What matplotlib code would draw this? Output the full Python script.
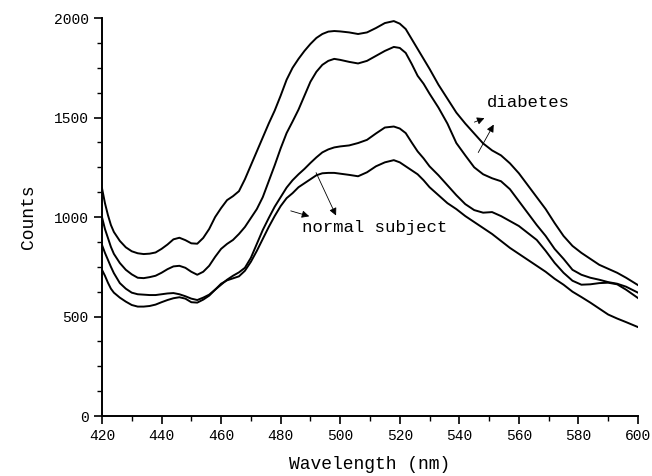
"""
Fluorescence spectra: diabetes vs normal subject
"""

import matplotlib
matplotlib.use("Agg")
import matplotlib.pyplot as plt
from matplotlib.ticker import MultipleLocator

#Wavelength grid (nm)
wavelength = [420, 421, 422, 423, 424, 426, 428, 430, 432, 434, 436, 438, 440, 442,
              444, 446, 448, 450, 452, 454, 456, 458, 460, 462, 464, 466, 468, 470,
              472, 474, 476, 478, 480, 482, 484, 486, 488, 490, 492, 494, 496, 498,
              500, 503, 506, 509, 512, 515, 518, 520, 522, 524, 526, 528, 530, 533,
              536, 539, 542, 545, 548, 551, 554, 557, 560, 563, 566, 569, 572, 575,
              578, 581, 584, 587, 590, 593, 596, 600]

#Diabetes, upper curve
diabetes_1 = [1146, 1070, 1010, 960, 925, 880, 848, 828, 818, 814, 816, 822, 840, 862,
              888, 896, 884, 868, 866, 895, 940, 1000, 1045, 1085, 1105, 1130, 1190, 1260,
              1330, 1400, 1470, 1535, 1610, 1690, 1750, 1795, 1835, 1870, 1900, 1920, 1932, 1935,
              1933, 1928, 1920, 1928, 1950, 1975, 1985, 1972, 1945, 1895, 1845, 1795, 1745, 1665,
              1595, 1525, 1470, 1420, 1370, 1335, 1310, 1270, 1220, 1160, 1100, 1040, 970, 905,
              855, 820, 790, 760, 740, 720, 695, 658]

#Diabetes, lower curve
diabetes_2 = [1000, 940, 895, 850, 815, 769, 735, 712, 695, 693, 698, 705, 720, 738,
              752, 755, 745, 725, 710, 725, 755, 800, 840, 865, 885, 915, 950, 995,
              1040, 1100, 1180, 1260, 1345, 1422, 1480, 1540, 1610, 1680, 1730, 1765, 1785, 1795,
              1790, 1780, 1772, 1785, 1810, 1835, 1855, 1850, 1825, 1770, 1710, 1670, 1620, 1550,
              1470, 1372, 1310, 1250, 1215, 1195, 1180, 1140, 1080, 1020, 960, 905, 840, 790,
              735, 710, 695, 685, 673, 665, 650, 620]

#Normal subject, upper curve
normal_1 = [860, 820, 785, 750, 718, 668, 640, 620, 612, 610, 608, 608, 612, 616,
            618, 612, 602, 590, 583, 595, 610, 635, 660, 685, 705, 722, 745, 795,
            865, 935, 995, 1052, 1100, 1148, 1185, 1215, 1242, 1272, 1300, 1325, 1340, 1350,
            1355, 1360, 1372, 1388, 1420, 1450, 1455, 1445, 1422, 1375, 1330, 1295, 1255, 1210,
            1160, 1110, 1065, 1035, 1022, 1025, 1005, 980, 955, 920, 885, 830, 770, 720,
            680, 660, 662, 668, 670, 662, 635, 593]

#Normal subject, lower curve
normal_2 = [735, 705, 670, 640, 620, 595, 575, 558, 550, 550, 553, 560, 572, 583,
            592, 597, 590, 572, 570, 585, 605, 635, 665, 682, 692, 702, 730, 775,
            830, 890, 950, 1005, 1055, 1095, 1120, 1150, 1170, 1190, 1210, 1220, 1222, 1222,
            1218, 1212, 1205, 1225, 1255, 1275, 1286, 1275, 1255, 1235, 1215, 1185, 1150, 1110,
            1070, 1040, 1005, 975, 945, 915, 880, 845, 815, 785, 755, 725, 690, 660,
            625, 598, 570, 540, 510, 490, 472, 447]

FONT = "Liberation Mono"

fig = plt.figure(figsize=(6.52, 4.76), dpi=100)
ax = fig.add_axes([0.1564, 0.126, 0.8221, 0.836])

for series in [diabetes_1, diabetes_2, normal_1, normal_2]:
    ax.plot(wavelength, series, color="black", lw=1.4)

ax.set_xlim(420, 600)
ax.set_ylim(0, 2000)
ax.xaxis.set_major_locator(MultipleLocator(20))
ax.xaxis.set_minor_locator(MultipleLocator(10))
ax.yaxis.set_major_locator(MultipleLocator(500))
ax.yaxis.set_minor_locator(MultipleLocator(125))

#Only left and bottom axes
ax.spines["top"].set_visible(False)
ax.spines["right"].set_visible(False)
ax.spines["left"].set_linewidth(1.4)
ax.spines["bottom"].set_linewidth(1.4)
ax.tick_params(which="major", direction="out", length=6, width=1.2, labelsize=10.5)
ax.tick_params(which="minor", direction="out", length=3.5, width=1.0)
for lab in ax.get_xticklabels() + ax.get_yticklabels():
    lab.set_fontfamily(FONT)

ax.set_xlabel("Wavelength (nm)", fontsize=13, fontfamily=FONT, labelpad=9)
ax.set_ylabel("Counts", fontsize=13, fontfamily=FONT, labelpad=12)

#Annotations
arrow = dict(arrowstyle="-|>", color="black", lw=0.6, mutation_scale=11)
ax.text(549.3, 1578, "diabetes", fontsize=12.5, fontfamily=FONT, va="center", ha="left")
ax.annotate("", xy=(549.3, 1502), xytext=(544.2, 1472), arrowprops=arrow)
ax.annotate("", xy=(552.0, 1477), xytext=(545.9, 1312), arrowprops=arrow)

ax.text(487.2, 950, "normal subject", fontsize=12.5, fontfamily=FONT, va="center", ha="left")
ax.annotate("", xy=(490.5, 1000), xytext=(482.5, 1035), arrowprops=arrow)
ax.annotate("", xy=(499.0, 995), xytext=(491.5, 1236), arrowprops=arrow)

fig.savefig("out.png", dpi=100)
